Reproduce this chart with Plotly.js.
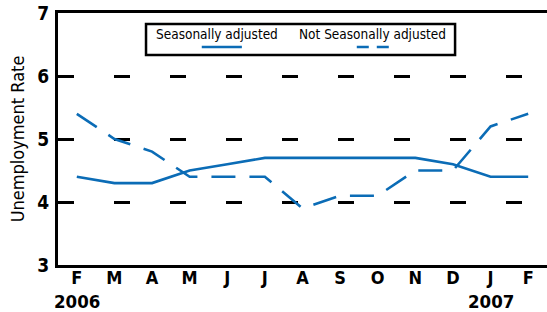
<!DOCTYPE html>
<html>
<head>
<meta charset="utf-8">
<script src="https://cdn.plot.ly/plotly-3.0.1.min.js"></script>
<style>
html,body{margin:0;padding:0;background:#fff;}
#chart{width:547px;height:312px;}
</style>
</head>
<body>
<div id="chart"></div>
<script>
const months = ['F','M','A','M','J','J','A','S','O','N','D','J','F'];
const seasonal = [4.4,4.3,4.3,4.5,4.6,4.7,4.7,4.7,4.7,4.7,4.6,4.4,4.4];
const notSeasonal = [5.4,5.0,4.8,4.4,4.4,4.4,3.9,4.1,4.1,4.5,4.5,5.2,5.4];
const seriesNames = ['Seasonally adjusted','Not Seasonally adjusted'];
const yearLabels = ['2006','2007'];
const yearIndex = [0, 11];
const yTicks = [3,4,5,6,7];

const FONT = '"DejaVu Sans Condensed", "Liberation Sans Narrow", "Arial Narrow", sans-serif';
const BLUE = '#0b6cb6';
const xIdx = months.map((m,i)=>i);

const traces = [
  {x:xIdx, y:seasonal, name:seriesNames[0], mode:'lines', line:{color:BLUE,width:2.6}},
  {x:xIdx, y:notSeasonal, name:seriesNames[1], mode:'lines', line:{color:BLUE,width:2.6,dash:'24px,14px'}}
];

const annotations = yearIndex.map((xi,k)=>({
  x:xi, xref:'x', y:0, yref:'paper', yshift:-36, text:yearLabels[k], showarrow:false,
  font:{family:FONT,size:18.5,color:'#000',weight:'bold'}, xanchor:'center', yanchor:'middle'
}));
annotations.push(
  {x:0.326, y:0.915, xref:'paper', yref:'paper', text:seriesNames[0], showarrow:false,
   font:{family:FONT,size:13.5,color:'#000'}, xanchor:'center', yanchor:'middle'},
  {x:0.643, y:0.915, xref:'paper', yref:'paper', text:seriesNames[1], showarrow:false,
   font:{family:FONT,size:13.5,color:'#000'}, xanchor:'center', yanchor:'middle'}
);

const shapes = [
  {type:'rect', xref:'paper', yref:'paper', x0:0.18, x1:0.812, y0:0.833, y1:0.956,
   line:{color:'#000',width:2.5}, fillcolor:'#fff', layer:'above'},
  {type:'line', xref:'paper', yref:'paper', x0:0.294, x1:0.376, y0:0.865, y1:0.865,
   line:{color:BLUE,width:2.6}, layer:'above'},
  {type:'line', xref:'paper', yref:'paper', x0:0.611, x1:0.681, y0:0.865, y1:0.865,
   line:{color:BLUE,width:2.6,dash:'12px,8px'}, layer:'above'}
];

const layout = {
  width:547, height:312,
  margin:{l:58,r:0,t:13,b:47},
  paper_bgcolor:'#fff', plot_bgcolor:'#fff',
  showlegend:false,
  xaxis:{
    range:[-0.5,12.5], tickvals:xIdx, ticktext:months,
    showline:true, linecolor:'#000', linewidth:3, mirror:true,
    showgrid:false, zeroline:false, ticks:'',
    tickfont:{family:FONT,size:18,color:'#000',weight:'bold'}, ticklabelstandoff:-6
  },
  yaxis:{
    range:[3,7], tickvals:yTicks,
    showline:true, linecolor:'#000', linewidth:3,
    showgrid:true, gridcolor:'#000', gridwidth:3, griddash:'16px,40px',
    zeroline:false, ticks:'',
    tickfont:{family:FONT,size:19,color:'#000',weight:'bold'}, ticklabelstandoff:2,
    title:{text:'Unemployment Rate', font:{family:FONT,size:18,color:'#000'}, standoff:8}
  },
  annotations:annotations,
  shapes:shapes
};

Plotly.newPlot('chart', traces, layout, {displayModeBar:false, staticPlot:true});
</script>
</body>
</html>
